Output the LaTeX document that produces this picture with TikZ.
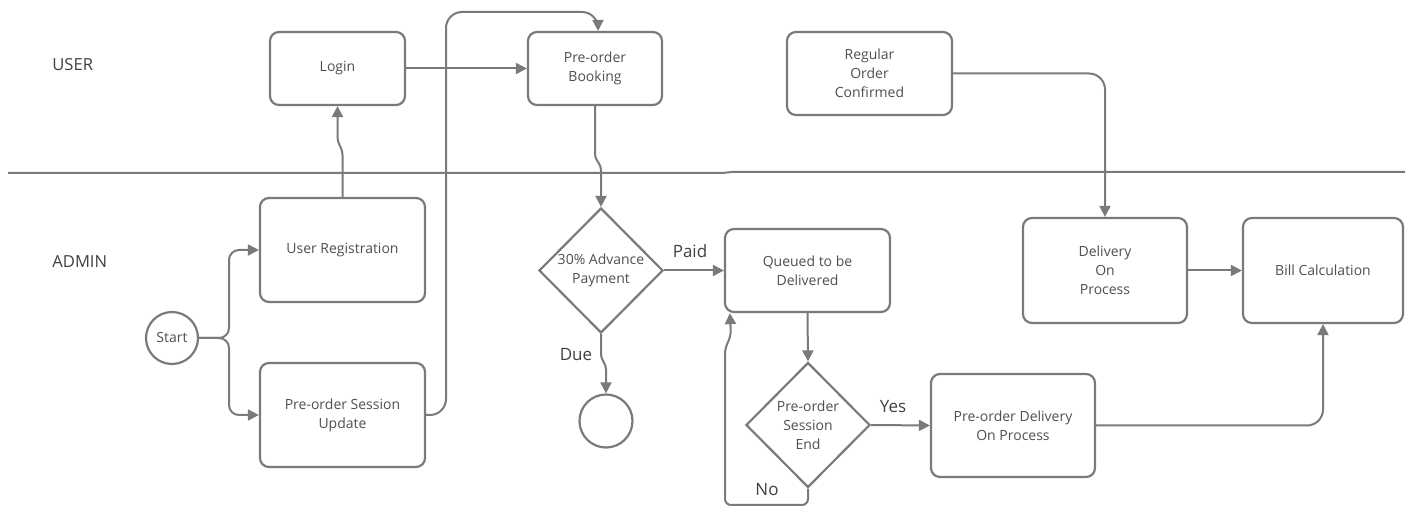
\documentclass[tikz,border=0pt]{standalone}
\usepackage{fontspec}
\setmainfont{Open Sans}
\usetikzlibrary{arrows.meta,shapes.geometric,calc}
\definecolor{ln}{HTML}{7A7A7A}
\definecolor{tx}{HTML}{4F4F4F}
\definecolor{lb}{HTML}{404040}
\begin{document}
\begin{tikzpicture}[x=0.5pt,y=-0.5pt,
  box/.style={draw=ln,line width=1.1pt,rounded corners=4.5pt,align=center,text=tx,
    font=\fontsize{7}{9.5}\selectfont,inner sep=0pt},
  dia/.style={draw=ln,line width=1.1pt,diamond,inner sep=0pt,minimum width=62pt,minimum height=62.5pt},
  circ/.style={draw=ln,line width=1.1pt,circle,inner sep=0pt,minimum size=26pt,text=tx,
    font=\fontsize{7}{9.5}\selectfont},
  dtext/.style={align=center,text=tx,font=\fontsize{7}{9.5}\selectfont,inner sep=0pt},
  lane/.style={text=lb,font=\fontsize{8.3}{10}\selectfont,anchor=west,inner sep=0pt},
  lbl/.style={text=lb,font=\fontsize{8.5}{10}\selectfont,inner sep=0pt},
  arr/.style={draw=ln,line width=1pt,rounded corners=5pt,-{Triangle[length=5.5pt,width=5.5pt]}},
  ln/.style={draw=ln,line width=1pt}
]
\useasboundingbox (0,0) rectangle (1405,507);

% lane divider
\draw[ln] (8,173) -- (722,173) -- (732,172) -- (1405,172);
\node[lane] (user) at (52,65) {USER};
\node[lane] (admin) at (52,262) {ADMIN};

% nodes
\node[box,minimum width=67.5pt,minimum height=36.5pt] (login) at (337.5,68.5) {Login};
\node[box,minimum width=67pt,minimum height=36.5pt] (booking) at (595,68.5) {Pre-order\\Booking};
\node[box,minimum width=82.5pt,minimum height=41.5pt] (regular) at (869.5,73.5) {Regular\\Order\\Confirmed};
\node[box,minimum width=82.5pt,minimum height=52pt] (userreg) at (342.5,250) {User Registration};
\node[box,minimum width=82.5pt,minimum height=52pt] (session) at (342.5,415) {Pre-order Session\\Update};
\node[circ] (start) at (172,338) {Start};
\node[dia] (d1) at (601,270.5) {};
\node[dtext] (d1t) at (d1) {30\% Advance\\Payment};
\node[circ,minimum size=26.5pt] (endc) at (606,421) {};
\node[box,minimum width=82.5pt,minimum height=41.5pt] (queued) at (807.5,270.5) {Queued to be\\Delivered};
\node[dia] (d2) at (808,425) {};
\node[dtext] (d2t) at (d2) {Pre-order\\Session\\End};
\node[box,minimum width=82pt,minimum height=51.5pt] (pdop) at (1013,425.5) {Pre-order Delivery\\On Process};
\node[box,minimum width=82pt,minimum height=52.5pt] (delivery) at (1105,270.5) {Delivery\\On\\Process};
\node[box,minimum width=80pt,minimum height=52.5pt] (bill) at (1323,270.5) {Bill Calculation};

% helper coordinates
\coordinate (br) at (229,338);
\coordinate (c1) at (446,12);
\coordinate (nob) at (725,505);

% connectors
\draw[arr] (start.east) -- (br) |- (userreg.west);
\draw[arr] (start.east) -- (br) |- (session.west);
\draw[arr,rounded corners=2pt] (userreg.north) -- ++(0,-46) -- ($(login.south)+(0,35)$) -- (login.south);
\draw[arr,rounded corners=8pt] (session.east) -| (c1) -| ($(booking.north)+(3,0)$);
\draw[arr] (login.east) -- (booking.west);
\draw[arr,rounded corners=2pt] (booking.south) -- ++(0,52) -- ($(d1.north)+(0,-41)$) -- (d1.north);
\draw[arr] (d1.east) -- (queued.west);
\draw[arr,rounded corners=2pt] (d1.south) -- ++(0,24) -- ($(endc.north)+(0,-28)$) -- (endc.north);
\draw[arr] (queued.south) -- (d2.north);
\draw[arr] (d2.east) -- (pdop.west);
\draw[arr,rounded corners=3pt] (d2.south) |- (nob) -- (725,348) -- (731,336) -- ($(queued.south west)+(6,0)$);
\draw[arr,rounded corners=8pt] (regular.east) -| (delivery.north);
\draw[arr] (delivery.east) -- (bill.west);
\draw[arr,rounded corners=8pt] (pdop.east) -| (bill.south);

% labels
\node[lbl] (paid) at (690,251) {Paid};
\node[lbl] (due) at (576,355) {Due};
\node[lbl] (yes) at (893,407) {Yes};
\node[lbl] (no) at (767,490) {No};
\end{tikzpicture}
\end{document}
